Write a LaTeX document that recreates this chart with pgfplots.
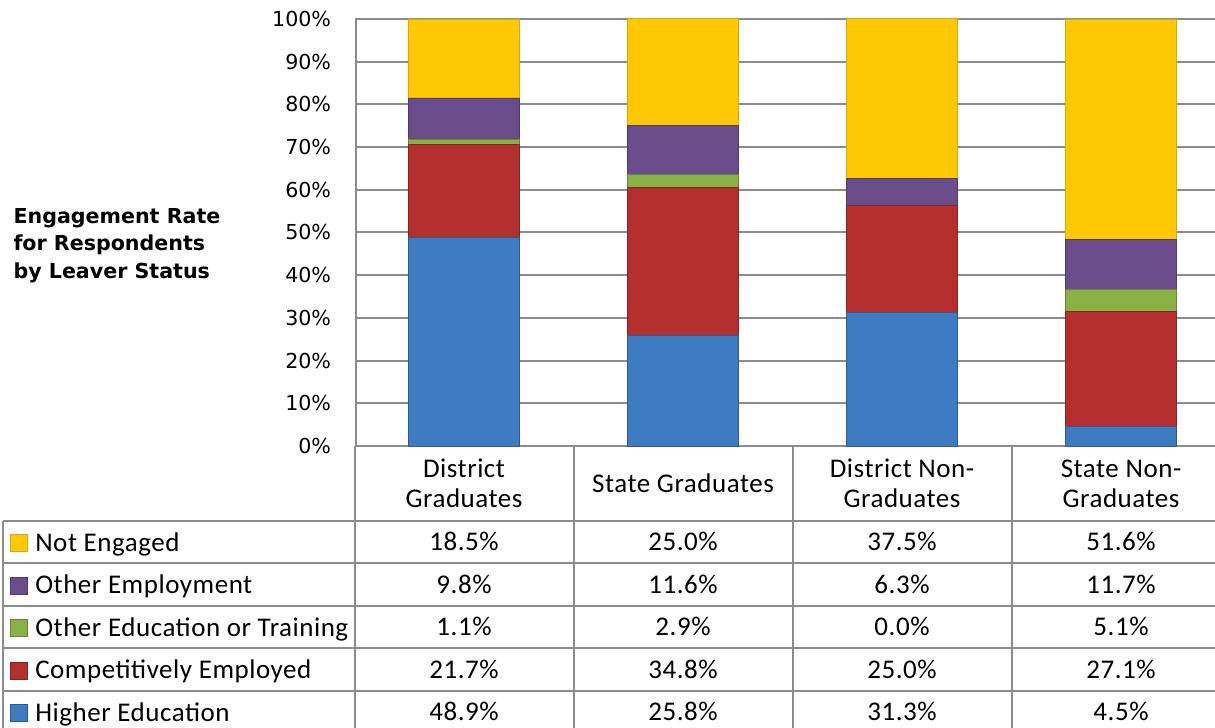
\documentclass[border=0pt]{standalone}
\usepackage{pgfplots}
\pgfplotsset{compat=1.18}
\usepackage{fontspec}
\setmainfont{Carlito}[LetterSpace=2]
\newfontfamily\dvfont{DejaVu Sans}
\definecolor{cBlue}{HTML}{3F7BC0}
\definecolor{cRed}{HTML}{B3302F}
\definecolor{cGreen}{HTML}{8AB143}
\definecolor{cPurple}{HTML}{6A4D8A}
\definecolor{cYellow}{HTML}{FFC805}
\definecolor{gridgray}{HTML}{8C8C8C}
\tikzset{cell/.style={font=\fontsize{13.5bp}{15bp}\selectfont, anchor=center, text height=8.7bp, text depth=0pt, inner sep=0pt},
  tline/.style={draw=gridgray, line width=1bp}}
\pgfplotsset{sqlegend/.style={legend image code/.code={\path (0bp,0bp); \fill[##1] (4.25bp,-4.75bp) rectangle (12.75bp,3.75bp);}}}
\begin{document}
\begin{tikzpicture}
\begin{axis}[
  x=109.5bp, y=2.135bp,
  xmin=-0.493, xmax=3.5, ymin=0, ymax=100,
  ybar stacked, bar width=55.5bp,
  clip=false,
  axis line style={draw=gridgray, line width=1bp},
  ytick={0,10,...,100},
  yticklabel={\pgfmathprintnumber{\tick}\%},
  yticklabel style={font=\dvfont\fontsize{10.3bp}{12bp}\selectfont, anchor=east, xshift=-9bp, /pgf/number format/assume math mode=true},
  ymajorgrids, grid style={draw=gridgray, line width=1bp},
  major tick length=0,
  xtick={0,1,2,3},
  xticklabels={{District\\Graduates},{State Graduates},{District Non-\\Graduates},{State Non-\\Graduates}},
  xticklabel style={align=center, anchor=center, yshift=-18.75bp, font=\fontsize{13.5bp}{15bp}\selectfont},
  sqlegend,
  reverse legend,
  legend cell align=left,
  legend style={at={(axis description cs:-0.4109,-0.176)}, anchor=north west, xshift=2.6bp,
    draw=none, fill=none, inner sep=0pt, outer sep=0pt, row sep=0pt, column sep=3.5bp,
    font=\fontsize{13.5bp}{15bp}\selectfont,
    nodes={inner sep=0pt, text height=15bp, text depth=6.25bp}},
]
\addplot+[fill=cBlue, draw=cBlue!75!black] coordinates {(0,48.9) (1,25.8) (2,31.3) (3,4.5)};
\addplot+[fill=cRed, draw=cRed!75!black] coordinates {(0,21.7) (1,34.8) (2,25.0) (3,27.1)};
\addplot+[fill=cGreen, draw=cGreen!75!black] coordinates {(0,1.1) (1,2.9) (2,0.0) (3,5.1)};
\addplot+[fill=cPurple, draw=cPurple!75!black] coordinates {(0,9.8) (1,11.6) (2,6.3) (3,11.7)};
\addplot+[fill=cYellow, draw=cYellow!85!black] coordinates {(0,18.5) (1,25.0) (2,37.5) (3,51.6)};
\legend{Higher Education, Competitively Employed, Other Education or Training, Other Employment, Not Engaged}

% table grid
\draw[tline] (axis cs:-0.5,0) -- (axis cs:-0.5,-70);
\draw[tline] (axis cs:0.5,0) -- (axis cs:0.5,-70);
\draw[tline] (axis cs:1.5,0) -- (axis cs:1.5,-70);
\draw[tline] (axis cs:2.5,0) -- (axis cs:2.5,-70);
\draw[tline] (axis cs:-2.105,-17.6) -- (axis cs:-2.105,-70);
\draw[tline] (axis cs:-2.105,-17.6) -- (axis cs:3.5,-17.6);
\draw[tline] (axis cs:-2.105,-27.5) -- (axis cs:3.5,-27.5);
\draw[tline] (axis cs:-2.105,-37.5) -- (axis cs:3.5,-37.5);
\draw[tline] (axis cs:-2.105,-47.4) -- (axis cs:3.5,-47.4);
\draw[tline] (axis cs:-2.105,-57.4) -- (axis cs:3.5,-57.4);

% Not Engaged
\node[cell] at (axis cs:0,-22.55) {18.5\%};
\node[cell] at (axis cs:1,-22.55) {25.0\%};
\node[cell] at (axis cs:2,-22.55) {37.5\%};
\node[cell] at (axis cs:3,-22.55) {51.6\%};
% Other Employment
\node[cell] at (axis cs:0,-32.5) {9.8\%};
\node[cell] at (axis cs:1,-32.5) {11.6\%};
\node[cell] at (axis cs:2,-32.5) {6.3\%};
\node[cell] at (axis cs:3,-32.5) {11.7\%};
% Other Education or Training
\node[cell] at (axis cs:0,-42.45) {1.1\%};
\node[cell] at (axis cs:1,-42.45) {2.9\%};
\node[cell] at (axis cs:2,-42.45) {0.0\%};
\node[cell] at (axis cs:3,-42.45) {5.1\%};
% Competitively Employed
\node[cell] at (axis cs:0,-52.4) {21.7\%};
\node[cell] at (axis cs:1,-52.4) {34.8\%};
\node[cell] at (axis cs:2,-52.4) {25.0\%};
\node[cell] at (axis cs:3,-52.4) {27.1\%};
% Higher Education
\node[cell] at (axis cs:0,-62.35) {48.9\%};
\node[cell] at (axis cs:1,-62.35) {25.8\%};
\node[cell] at (axis cs:2,-62.35) {31.3\%};
\node[cell] at (axis cs:3,-62.35) {4.5\%};

\node[anchor=west, align=left, inner sep=0pt, font=\dvfont\bfseries\fontsize{10.3bp}{13.75bp}\selectfont]
  at (axis cs:-2.059,47.0) {Engagement Rate\\for Respondents\\by Leaver Status};

\coordinate (bbSW) at (axis cs:-2.119,-66.04);
\coordinate (bbNE) at (axis cs:3.429,104.45);
\end{axis}
\pgfresetboundingbox
\useasboundingbox (bbSW) rectangle (bbNE);
\end{tikzpicture}
\end{document}
